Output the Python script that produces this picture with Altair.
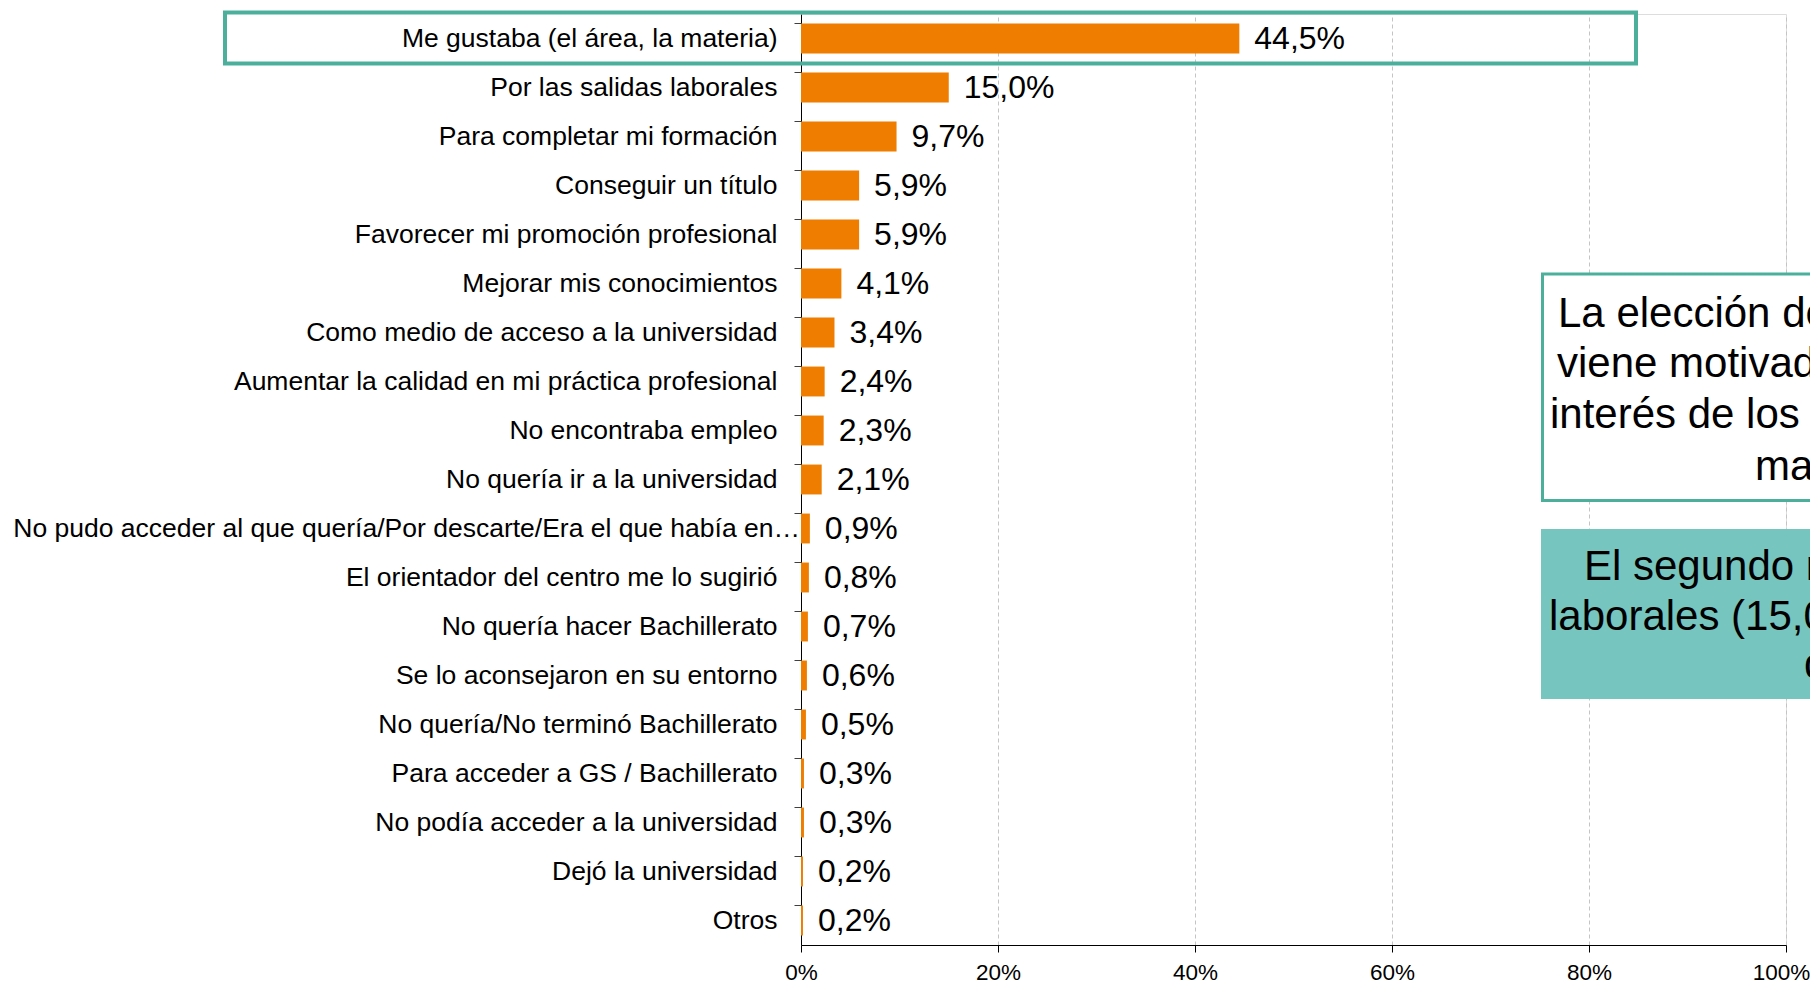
import altair as alt
import pandas as pd

# ---------------- data ----------------
categories = [
    "Me gustaba (el área, la materia)",
    "Por las salidas laborales",
    "Para completar mi formación",
    "Conseguir un título",
    "Favorecer mi promoción profesional",
    "Mejorar mis conocimientos",
    "Como medio de acceso a la universidad",
    "Aumentar la calidad en mi práctica profesional",
    "No encontraba empleo",
    "No quería ir a la universidad",
    "No pudo acceder al que quería/Por descarte/Era el que había en…",
    "El orientador del centro me lo sugirió",
    "No quería hacer Bachillerato",
    "Se lo aconsejaron en su entorno",
    "No quería/No terminó Bachillerato",
    "Para acceder a GS / Bachillerato",
    "No podía acceder a la universidad",
    "Dejó la universidad",
    "Otros",
]
values = [44.5, 15.0, 9.7, 5.9, 5.9, 4.1, 3.4, 2.4, 2.3, 2.1,
          0.9, 0.8, 0.7, 0.6, 0.5, 0.3, 0.3, 0.2, 0.2]
x_ticks = [0, 20, 40, 60, 80, 100]
long_label = categories[10]

box1_lines = [
    "La elección del ciclo formativo",
    "viene motivada por el gusto o",
    "interés de los alumnos por la",
    "materia (44,5%).",
]
box2_lines = [
    "El segundo motivo son las salidas",
    "laborales (15,0%) seguido",
    "de completar la formación",
]

df = pd.DataFrame({"motivo": categories, "pct": values})
df["label"] = [f"{v:.1f}".replace(".", ",") + "%" for v in values]

# ---------------- style ----------------
FONT = "Liberation Sans"
ORANGE = "#EE7D00"
TEAL_LINE = "#4BAF9C"
TEAL_FILL = "#76C5BF"
W, H = 985, 931
PAD = {"left": 793, "top": 6, "right": 1802 - 793 - W, "bottom": 42}

y_enc = alt.Y(
    "motivo:N", sort=categories, title=None,
    scale=alt.Scale(paddingInner=0.39, paddingOuter=0.195),
    axis=alt.Axis(
        labelFont=FONT, labelFontSize=26.5, labelColor="black",
        labelPadding=17, labelLimit=2000, tickSize=7, tickColor="#404040",
        domainColor="black", bandPosition=0,
        labelExpr="indexof(datum.value, 'No pudo') === 0 ? '' : datum.value",
    ),
)
x_enc = alt.X(
    "pct:Q", title=None, scale=alt.Scale(domain=[0, 100]),
    axis=alt.Axis(
        values=x_ticks, labelExpr="datum.value + '%'",
        labelFont=FONT, labelFontSize=22.5, labelColor="black", labelPadding=9,
        labelFlush=False, labelOverlap=False,
        labelOffset={"condition": {"test": "datum.value == 100", "value": -5}, "value": 0},
        tickSize=7, tickColor="black", domainColor="black",
        grid=True, gridColor="#C4C4C4", gridDash=[4, 3], gridWidth=1,
    ),
)

base = alt.Chart(df)
bars = base.mark_bar(color=ORANGE).encode(x=x_enc, y=y_enc)
vals = base.mark_text(align="left", baseline="middle", dx=15, fontSize=32,
                      font=FONT, color="black").encode(x=x_enc, y=y_enc, text="label:N")
long_txt = base.transform_filter(alt.datum.motivo == long_label).mark_text(
    align="right", baseline="middle", fontSize=26.5, font=FONT, color="black"
).encode(y=y_enc, x=alt.value(-1), text="motivo:N")

one = alt.Chart(pd.DataFrame({"k": [0]}))
highlight = one.mark_rect(filled=False, stroke=TEAL_LINE, strokeWidth=4).encode(
    x=alt.value(-576), x2=alt.value(835), y=alt.value(-1.5), y2=alt.value(49.5))
box1 = one.mark_rect(fill="white", stroke=TEAL_LINE, strokeWidth=3).encode(
    x=alt.value(741.5), x2=alt.value(1200), y=alt.value(260), y2=alt.value(486.5))
box2 = one.mark_rect(fill=TEAL_FILL).encode(
    x=alt.value(740), x2=alt.value(1200), y=alt.value(515), y2=alt.value(685))

layers = [bars, vals, long_txt, highlight, box1, box2]
b1x = [757, 756, 749, 954]
b1y = [312.5, 363, 414, 465.5]
for t, xx, yy in zip(box1_lines, b1x, b1y):
    layers.append(one.mark_text(align="left", baseline="alphabetic", fontSize=42,
                                font=FONT, color="black").encode(
        x=alt.value(xx), y=alt.value(yy), text=alt.value(t)))
b2x = [783, 748, 1003]
b2y = [565.5, 615.5, 663.5]
for t, xx, yy in zip(box2_lines, b2x, b2y):
    layers.append(one.mark_text(align="left", baseline="alphabetic", fontSize=42,
                                font=FONT, color="black").encode(
        x=alt.value(xx), y=alt.value(yy), text=alt.value(t)))

chart = alt.layer(*layers).properties(
    width=W, height=H, padding=PAD,
    autosize=alt.AutoSizeParams(type="none"),
).configure_view(stroke=None).configure(background="white")

chart.save("out.html", embed_options={"renderer": "svg", "actions": False})
